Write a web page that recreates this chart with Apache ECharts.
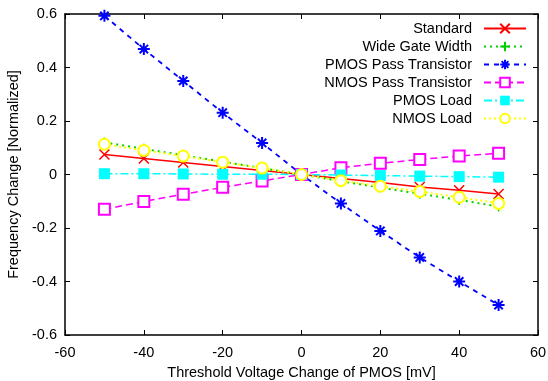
<!DOCTYPE html>
<html>
<head>
<meta charset="utf-8">
<script src="https://cdn.jsdelivr.net/npm/echarts@6/dist/echarts.min.js"></script>
<style>
  html, body { margin: 0; padding: 0; background: #fff; }
  #chart { width: 548px; height: 381px; }
</style>
</head>
<body>
<div id="chart"></div>
<script>
// threshold voltage change of PMOS, mV
const vth = [-50, -40, -30, -20, -10, 0, 10, 20, 30, 40, 50];

// normalized frequency change
const standard      = [0.075, 0.060, 0.045, 0.030, 0.015, 0, -0.015, -0.030, -0.047, -0.059, -0.073];
const wideGate      = [0.120, 0.096, 0.072, 0.048, 0.024, 0, -0.025, -0.049, -0.072, -0.095, -0.120];
const pmosPass      = [0.593, 0.469, 0.350, 0.231, 0.118, 0, -0.108, -0.211, -0.310, -0.400, -0.488];
const nmosPass      = [-0.130, -0.101, -0.074, -0.048, -0.024, 0, 0.025, 0.042, 0.056, 0.069, 0.079];
const pmosLoad      = [0.003, 0.003, 0.002, 0.001, 0.001, 0, -0.002, -0.004, -0.006, -0.008, -0.010];
const nmosLoad      = [0.113, 0.090, 0.069, 0.046, 0.024, 0, -0.023, -0.044, -0.064, -0.085, -0.108];

const xTicks = [-60, -40, -20, 0, 20, 40, 60];
const yTicks = [-0.6, -0.4, -0.2, 0, 0.2, 0.4, 0.6];

const FONT = 'Liberation Sans';
const FONT_SIZE = 14.5;

// gnuplot style point shapes
const crossPath = 'path://M0,0L10,10M10,0L0,10';
const plusPath = 'path://M5,0L5,10M0,5L10,5';
const starPath = 'path://M5,0L5,10M0,5L10,5M1.5,1.5L8.5,8.5M8.5,1.5L1.5,8.5';

function pairs(ys) {
  return vth.map((x, i) => [x, ys[i]]);
}

function strokeSymbol(color, w) {
  return { color: color, borderColor: color, borderWidth: w || 1.5 };
}

const series = [
  {
    name: 'Standard', data: pairs(standard),
    symbol: crossPath, symbolSize: 10,
    lineStyle: { color: '#ff0000', width: 1.5, type: 'solid' },
    itemStyle: strokeSymbol('#ff0000')
  },
  {
    name: 'Wide Gate Width', data: pairs(wideGate),
    symbol: plusPath, symbolSize: 10,
    lineStyle: { color: '#00d000', width: 2, type: [2, 4] },
    itemStyle: strokeSymbol('#00d000')
  },
  {
    name: 'PMOS Pass Transistor', data: pairs(pmosPass),
    symbol: starPath, symbolSize: 12,
    lineStyle: { color: '#0000ff', width: 1.8, type: [5, 5] },
    itemStyle: strokeSymbol('#0000ff', 2)
  },
  {
    name: 'NMOS Pass Transistor', data: pairs(nmosPass),
    symbol: 'emptyRect', symbolSize: 11,
    lineStyle: { color: '#ff00ff', width: 1.5, type: [7, 4] },
    itemStyle: { color: '#ff00ff', borderColor: '#ff00ff', borderWidth: 1.5 }
  },
  {
    name: 'PMOS Load', data: pairs(pmosLoad),
    symbol: 'rect', symbolSize: 11,
    lineStyle: { color: '#00ffff', width: 1.5, type: [8, 3, 2, 3] },
    itemStyle: { color: '#00ffff' }
  },
  {
    name: 'NMOS Load', data: pairs(nmosLoad),
    symbol: 'emptyCircle', symbolSize: 11,
    lineStyle: { color: '#ffff00', width: 2, type: [2, 3] },
    itemStyle: { color: '#ffff00', borderColor: '#ffff00', borderWidth: 1.8 }
  }
].map(s => Object.assign({ type: 'line', showSymbol: true, animation: false, z: 3 }, s));

const axisLine = { show: true, onZero: false, lineStyle: { color: '#000', width: 1.5 } };
const axisTick = { show: true, inside: true, length: 5, lineStyle: { color: '#000', width: 1 } };
const labelText = { color: '#000', fontFamily: FONT, fontSize: FONT_SIZE };

const chart = echarts.init(document.getElementById('chart'), null, { renderer: 'canvas' });

chart.setOption({
  animation: false,
  backgroundColor: '#fff',
  grid: { left: 65, right: 10, top: 14, bottom: 46, outerBoundsMode: 'none', containLabel: false },
  legend: {
    orient: 'vertical',
    right: 16,
    top: 16,
    align: 'right',
    itemWidth: 42,
    itemHeight: 12,
    itemGap: 3,
    textStyle: { color: '#000', fontFamily: FONT, fontSize: FONT_SIZE, padding: [0, 7, 0, 0] },
    data: series.map(s => s.name)
  },
  xAxis: [
    {
      type: 'value', min: xTicks[0], max: xTicks[xTicks.length - 1], interval: 20,
      name: 'Threshold Voltage Change of PMOS [mV]',
      nameLocation: 'middle', nameGap: 30,
      nameTextStyle: labelText,
      axisLine: axisLine, axisTick: axisTick,
      axisLabel: Object.assign({ margin: 10 }, labelText),
      splitLine: { show: false }
    },
    {
      type: 'value', position: 'top', min: xTicks[0], max: xTicks[xTicks.length - 1], interval: 20,
      axisLine: axisLine, axisTick: axisTick,
      axisLabel: { show: false }, splitLine: { show: false }
    }
  ],
  yAxis: [
    {
      type: 'value', min: yTicks[0], max: yTicks[yTicks.length - 1], interval: 0.2,
      name: 'Frequency Change [Normalized]',
      nameLocation: 'middle', nameGap: 37,
      nameTextStyle: labelText,
      axisLine: axisLine, axisTick: axisTick,
      axisLabel: Object.assign({ margin: 8, formatter: v => String(Math.round(v * 10) / 10) }, labelText),
      splitLine: { show: false }
    },
    {
      type: 'value', position: 'right', min: yTicks[0], max: yTicks[yTicks.length - 1], interval: 0.2,
      axisLine: axisLine, axisTick: axisTick,
      axisLabel: { show: false }, splitLine: { show: false }
    }
  ],
  series: series
});
</script>
</body>
</html>
